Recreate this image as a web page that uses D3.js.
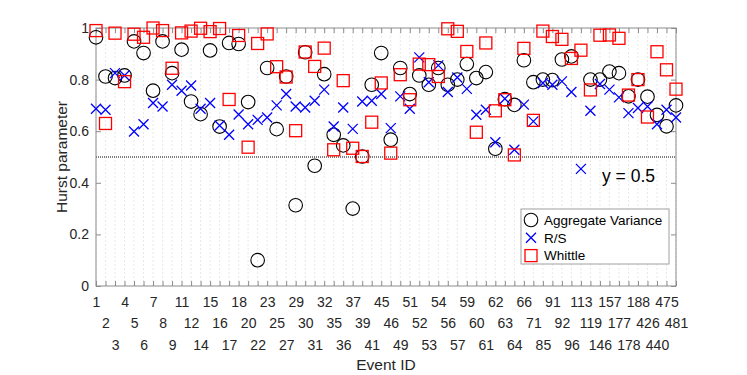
<!DOCTYPE html>
<html>
<head>
<meta charset="utf-8">
<script src="https://cdn.jsdelivr.net/npm/d3@7"></script>
<style>
  body { margin: 0; background: #fff; }
  text { font-family: "Liberation Sans", Arial, sans-serif; }
</style>
</head>
<body>
<svg width="747" height="375"></svg>
<script>
// event ids, one per x position
const eventIds = [1, 2, 3, 4, 5, 6, 7, 8, 9, 11, 12, 14, 15, 16, 17, 18, 20, 22, 23, 25, 27,
  29, 30, 31, 32, 35, 36, 37, 39, 41, 45, 46, 49, 51, 52, 53, 54, 56, 57, 59, 60, 61,
  62, 63, 64, 66, 71, 85, 91, 92, 96, 113, 119, 146, 157, 177, 178, 188, 426, 440, 475, 481];

// Hurst estimates (null = no value)
const aggVar = [0.964, 0.812, 0.806, 0.816, 0.948, 0.903, 0.757, 0.948, 0.825, 0.916, 0.715,
  0.666, 0.913, 0.618, 0.942, 0.938, 0.713, 0.10, 0.845, 0.608, 0.812, 0.313, 0.906, 0.466,
  0.821, 0.586, 0.545, 0.30, 0.502, 0.78, 0.903, 0.567, 0.845, 0.744, 0.816, 0.78, 0.845,
  0.78, 0.80, 0.86, 0.806, 0.829, 0.532, 0.724, 0.702, 0.875, 0.79, 0.80, 0.798, 0.878,
  0.89, null, 0.80, 0.80, 0.831, 0.825, 0.735, 0.80, 0.734, 0.663, 0.619, 0.70];

const rsVals = [0.687, 0.683, 0.825, 0.816, 0.599, 0.627, 0.709, 0.696, 0.78, 0.757, 0.777,
  0.687, 0.709, 0.622, 0.586, 0.665, 0.627, 0.644, 0.653, 0.70, 0.744, 0.696, 0.692, 0.718,
  0.761, 0.618, 0.692, 0.609, 0.715, 0.718, 0.744, 0.612, 0.735, 0.687, 0.886, 0.79, 0.855,
  0.752, 0.808, 0.764, 0.664, 0.683, 0.557, 0.726, 0.528, 0.703, 0.638, 0.787, 0.78, 0.793,
  0.752, 0.454, 0.679, 0.783, 0.761, 0.731, 0.67, 0.69, 0.696, 0.627, 0.683, 0.653];

const whittle = [0.99, 0.63, 0.98, 0.792, 0.976, 0.964, 1.0, 0.99, 0.844, 0.981, 0.988,
  0.999, 0.986, 0.998, 0.723, 0.971, 0.538, 0.94, 0.977, 0.85, 0.81, 0.602, 0.907, 0.851,
  0.922, 0.528, 0.796, 0.534, 0.502, 0.635, 0.787, 0.515, 0.819, 0.722, 0.86, 0.858, 0.812,
  0.997, 0.987, 0.909, 0.596, 0.942, 0.679, 0.722, 0.508, 0.921, 0.642, 0.988, 0.967, 0.956,
  0.882, 0.914, 0.76, 0.972, 0.973, 0.96, 0.74, 0.80, 0.655, 0.908, 0.838, 0.763];

const yTicks = [0, 0.2, 0.4, 0.6, 0.8, 1];
const refLevel = 0.5;
const seriesNames = ["Aggregate Variance", "R/S", "Whittle"];

var svg = d3.select("svg"),
  pLeft = 96, pRight = 676, pTop = 28, pBottom = 286;

var x = d3.scaleLinear().domain([1, eventIds.length]).range([pLeft, pRight]);
var y = d3.scaleLinear().domain([0, 1]).range([pBottom, pTop]);
var idx = d3.range(1, eventIds.length + 1);

svg.append("rect").attr("width", 747).attr("height", 375).attr("fill", "#fff");

// faint vertical grid
svg.append("g")
  .selectAll("line")
  .data(idx)
  .enter()
  .append("line")
  .attr("x1", d => x(d)).attr("x2", d => x(d))
  .attr("y1", pTop).attr("y2", pBottom)
  .attr("stroke", "#e2e2e2")
  .attr("stroke-dasharray", "2,2")
  .attr("stroke-width", 0.8);

// y = 0.5 reference line
svg.append("line")
  .attr("x1", pLeft).attr("x2", pRight)
  .attr("y1", y(refLevel)).attr("y2", y(refLevel))
  .attr("stroke", "#000")
  .attr("stroke-width", 1)
  .attr("stroke-dasharray", "1,1");

var axisColor = "#8c8c8c";

// bottom axis, labels staggered over three rows
var xb = svg.append("g")
  .attr("transform", "translate(0," + pBottom + ")")
  .call(d3.axisBottom(x).tickValues(idx).tickSizeInner(-5).tickSizeOuter(0)
    .tickFormat((d, i) => eventIds[i]));
xb.selectAll("text")
  .attr("dy", null)
  .attr("y", (d, i) => 20.5 + (i % 3) * 21.8)
  .attr("font-size", 14)
  .attr("font-family", "Liberation Sans, Arial, sans-serif")
  .attr("fill", "#262626");

var xt = svg.append("g")
  .attr("transform", "translate(0," + pTop + ")")
  .call(d3.axisTop(x).tickValues(idx).tickSizeInner(-5).tickSizeOuter(0).tickFormat(""));

var yl = svg.append("g")
  .attr("transform", "translate(" + pLeft + ",0)")
  .call(d3.axisLeft(y).tickValues(yTicks).tickSizeInner(-5).tickSizeOuter(0)
    .tickPadding(7).tickFormat(d => d === 0 || d === 1 ? d : d3.format(".1f")(d)));
yl.selectAll("text")
  .attr("font-size", 14)
  .attr("font-family", "Liberation Sans, Arial, sans-serif")
  .attr("fill", "#262626");

var yr = svg.append("g")
  .attr("transform", "translate(" + pRight + ",0)")
  .call(d3.axisRight(y).tickValues(yTicks).tickSizeInner(-5).tickSizeOuter(0).tickFormat(""));

[xb, xt, yl, yr].forEach(function (g) {
  g.select(".domain").remove();
  g.selectAll(".tick line").attr("stroke", axisColor);
});

svg.append("rect")
  .attr("x", pLeft).attr("y", pTop)
  .attr("width", pRight - pLeft).attr("height", pBottom - pTop)
  .attr("fill", "none")
  .attr("stroke", axisColor)
  .attr("stroke-width", 1);

// markers
var circleR = 6.8, xHalf = 5, sqHalf = 6;

function circleMark(sel) {
  sel.append("circle").attr("r", circleR)
    .attr("fill", "none").attr("stroke", "#000").attr("stroke-width", 1.1);
}
function crossMark(sel) {
  sel.append("path")
    .attr("d", "M" + -xHalf + "," + -xHalf + "L" + xHalf + "," + xHalf +
      "M" + -xHalf + "," + xHalf + "L" + xHalf + "," + -xHalf)
    .attr("fill", "none").attr("stroke", "#0000ff").attr("stroke-width", 1.3);
}
function squareMark(sel) {
  sel.append("rect")
    .attr("x", -sqHalf).attr("y", -sqHalf)
    .attr("width", 2 * sqHalf).attr("height", 2 * sqHalf)
    .attr("fill", "none").attr("stroke", "#ff0000").attr("stroke-width", 1.3);
}

var series = [
  { vals: aggVar, mark: circleMark },
  { vals: rsVals, mark: crossMark },
  { vals: whittle, mark: squareMark }
];

series.forEach(function (s) {
  svg.append("g")
    .selectAll("g")
    .data(s.vals.map((v, i) => ({ i: i + 1, v: v })).filter(d => d.v !== null))
    .enter()
    .append("g")
    .attr("transform", d => "translate(" + x(d.i) + "," + y(d.v) + ")")
    .call(s.mark);
});

// labels
svg.append("text")
  .attr("x", (pLeft + pRight) / 2).attr("y", 370)
  .attr("text-anchor", "middle")
  .attr("font-size", 15.5)
  .attr("fill", "#262626")
  .text("Event ID");

svg.append("text")
  .attr("transform", "translate(67," + (pTop + pBottom) / 2 + ") rotate(-90)")
  .attr("text-anchor", "middle")
  .attr("font-size", 15.5)
  .attr("fill", "#262626")
  .text("Hurst parameter");

svg.append("text")
  .attr("x", 602).attr("y", 182)
  .attr("font-size", 17.5)
  .attr("fill", "#000")
  .text("y = 0.5");

// legend
var legend = svg.append("g").attr("transform", "translate(521,209)");
legend.append("rect")
  .attr("width", 148).attr("height", 55)
  .attr("fill", "#fff")
  .attr("stroke", "#a0a0a0");

var marks = [circleMark, crossMark, squareMark];
var item = legend.selectAll(".item")
  .data(seriesNames)
  .enter()
  .append("g")
  .attr("class", "item")
  .attr("transform", (d, i) => "translate(0," + (11 + i * 17.8) + ")");

item.append("g").attr("transform", "translate(10,0)")
  .each(function (d, i) { marks[i](d3.select(this)); });

item.append("text")
  .attr("x", 23).attr("y", 0)
  .attr("dy", "0.35em")
  .attr("font-size", 13.5)
  .attr("fill", "#000")
  .text(d => d);
</script>
</body>
</html>
